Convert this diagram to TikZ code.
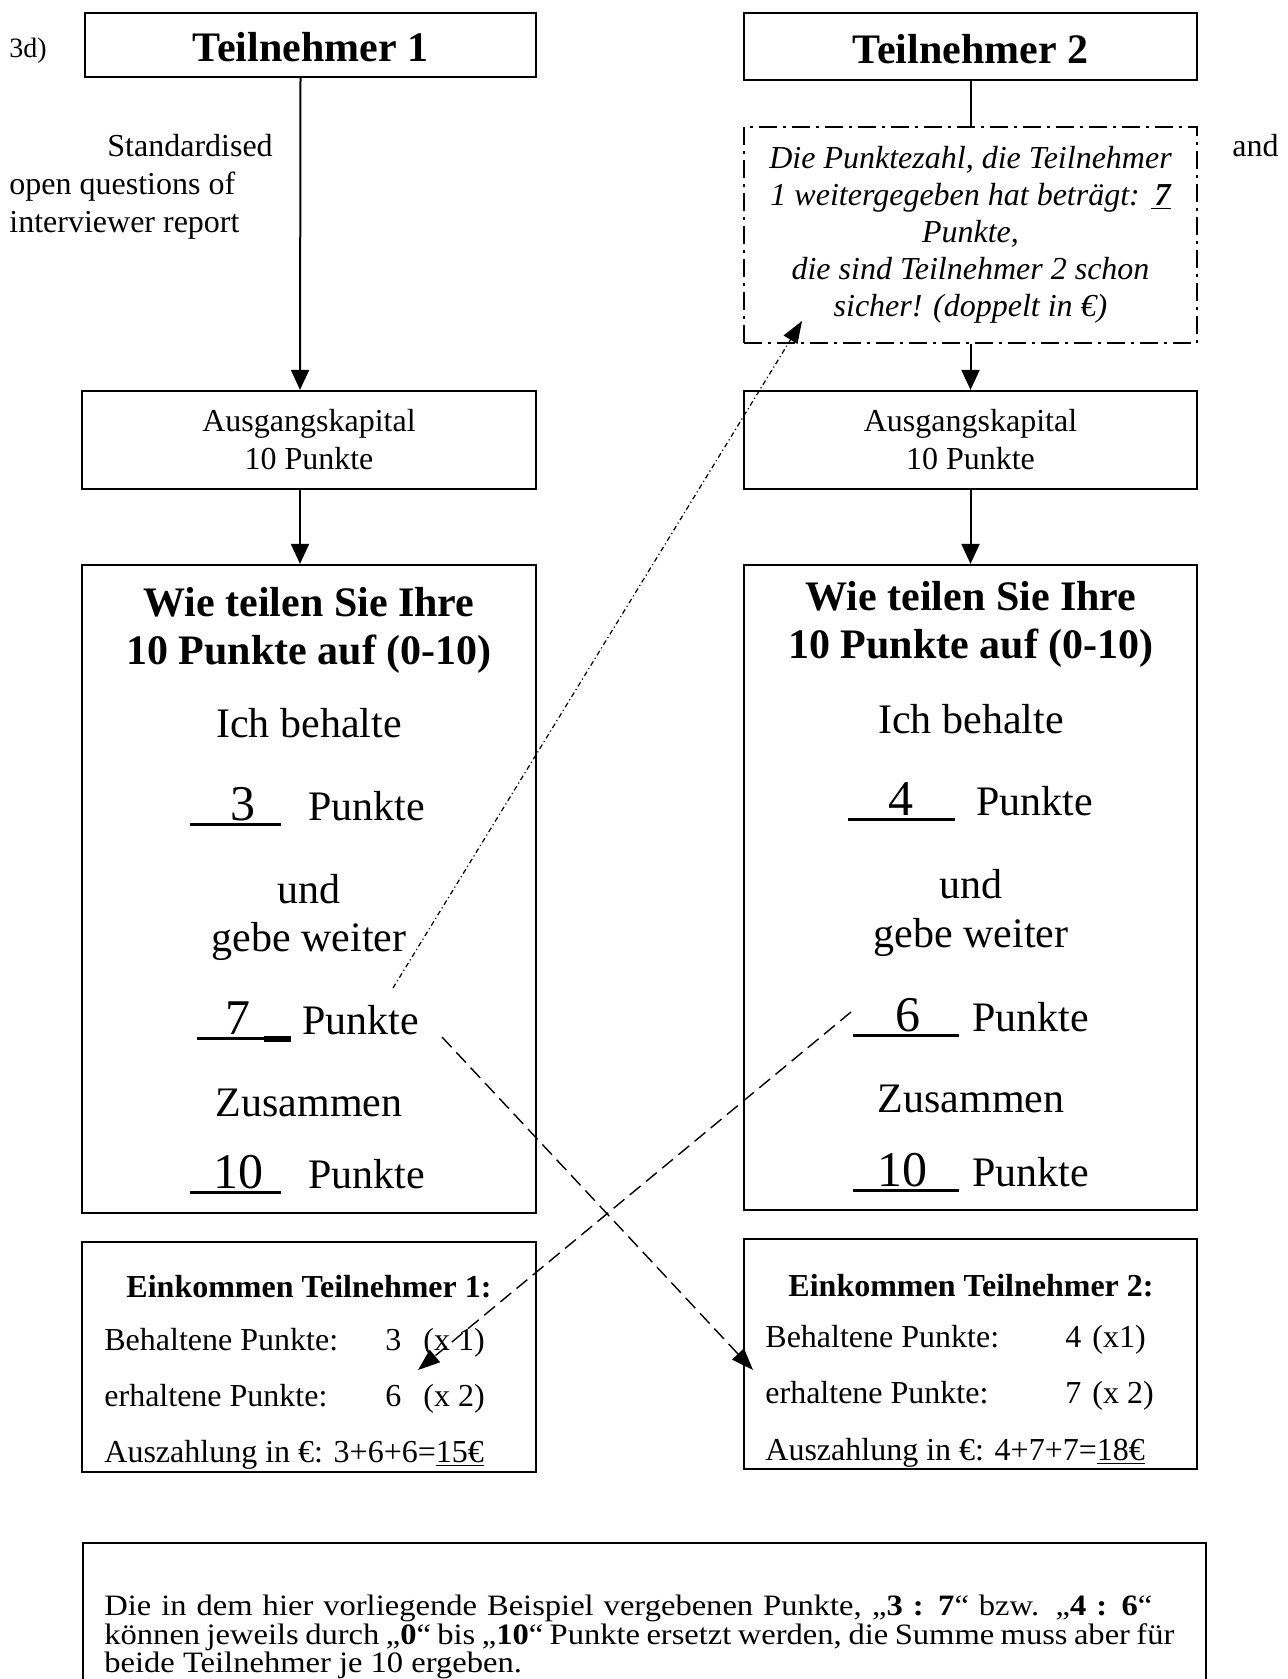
\documentclass[tikz,border=0pt]{standalone}
\usepackage{fontspec}
\setmainfont{Liberation Serif}
\newfontfamily\breitfont[FakeStretch=1.1]{Liberation Serif}
\usetikzlibrary{arrows.meta}

\newcommand{\klein}{\fontsize{16}{19}\selectfont}
\newcommand{\kleinb}{\bfseries\fontsize{16}{19}\selectfont}
\newcommand{\schraeg}{\itshape\fontsize{16}{18.5}\selectfont}
\newcommand{\notiz}{\breitfont\fontsize{14.8}{14.2}\selectfont}
\newcommand{\mittel}{\fontsize{21}{25}\selectfont}
\newcommand{\titel}{\bfseries\fontsize{21}{25}\selectfont}
\newcommand{\ziffer}{\fontsize{25}{28}\selectfont}
% Feld mit Unterstrich und Ziffer
\newcommand{\feld}[3]{\rlap{\rule[-3pt]{#1}{1.3pt}}\makebox[#1][l]{\hspace*{#2}\ziffer #3}}

\begin{document}
\begin{tikzpicture}[x=0.5pt, y=-0.5pt,
    kasten/.style={draw, line width=1.1pt, inner sep=0pt},
    strichpunkt/.style={draw, line width=1pt, dash pattern=on 9pt off 3pt on 1.5pt off 3pt, inner sep=0pt},
    zeile/.style={anchor=base, inner sep=0pt},
    links/.style={anchor=base west, inner sep=0pt},
    pfeil/.style={-{Triangle[length=10pt,width=9pt]}, line width=1pt},
    gestrichelt/.style={-{Triangle[length=11pt,width=8pt]}, line width=0.7pt, dash pattern=on 7pt off 3.5pt},
    punktiert/.style={-{Triangle[length=11pt,width=8pt]}, line width=0.6pt, dash pattern=on 2.5pt off 1.5pt on 0.6pt off 1.5pt}]
  \useasboundingbox (0,0) rectangle (1288,1679);

  % Kopf
  \node[links, font=\fontsize{14}{17}\selectfont] (nr) at (9,58) {3d)};
  \node[kasten, font=\titel, text height=17pt, minimum width=225.5pt, minimum height=32pt] (t1) at (310.5,45) {Teilnehmer 1};
  \node[kasten, font=\titel, text height=17pt, minimum width=226.5pt, minimum height=33.5pt] (t2) at (970.5,46.5) {Teilnehmer 2};
  \node[links, font=\klein] (std1) at (107,157) {Standardised};
  \node[links, font=\klein] (std2) at (9,195) {open questions of};
  \node[links, font=\klein] (std3) at (9,233) {interviewer report};
  \node[links, font=\klein] (und) at (1232,157) {and};

  % Hinweis fuer Teilnehmer 2
  \node[strichpunkt, align=center, font=\schraeg, minimum width=226.5pt, minimum height=108pt] (info) at (970.5,235)
    {Die Punktezahl, die Teilnehmer\\1 weitergegeben hat beträgt: \underline{\hspace{2pt}\textbf{7}}\\Punkte,\\die sind Teilnehmer 2 schon\\sicher! (doppelt in €)};

  % Ausgangskapital
  \node[kasten, align=center, font=\klein, minimum width=227pt, minimum height=49pt] (a1) at (309,440) {Ausgangskapital\\10 Punkte};
  \node[kasten, align=center, font=\klein, minimum width=226.5pt, minimum height=49pt] (a2) at (970.5,440) {Ausgangskapital\\10 Punkte};

  % Aufteilung Teilnehmer 1
  \node[kasten, minimum width=227pt, minimum height=324pt] (b1) at (309,889) {};
  \node[zeile, font=\titel] (b1k1) at (309,616) {Wie teilen Sie Ihre};
  \node[zeile, font=\titel] (b1k2) at (309,664) {10 Punkte auf (0-10)};
  \node[zeile, font=\mittel] (b1i) at (309,737) {Ich behalte};
  \node[links, font=\mittel] (b1r3) at (190,820) {\feld{45.5pt}{20pt}{3}\hspace*{13.5pt}Punkte};
  \node[zeile, font=\mittel] (b1u) at (309,903) {und};
  \node[zeile, font=\mittel] (b1g) at (309,951) {gebe weiter};
  \node[links, font=\mittel] (b1r7) at (197,1034) {\rlap{\rule[-3pt]{47pt}{1.3pt}}\rlap{\hspace*{33.5pt}\rule[-3.8pt]{13.5pt}{2.6pt}}\makebox[47pt][l]{\hspace*{14pt}\ziffer 7}\hspace*{5.5pt}Punkte};
  \node[zeile, font=\mittel] (b1z) at (309,1116) {Zusammen};
  \node[links, font=\mittel] (b1r10) at (190,1188) {\feld{45.5pt}{11.5pt}{10}\hspace*{13.5pt}Punkte};

  % Aufteilung Teilnehmer 2
  \node[kasten, minimum width=226.5pt, minimum height=322.5pt] (b2) at (970.5,887.5) {};
  \node[zeile, font=\titel] (b2k1) at (971,610) {Wie teilen Sie Ihre};
  \node[zeile, font=\titel] (b2k2) at (971,658) {10 Punkte auf (0-10)};
  \node[zeile, font=\mittel] (b2i) at (971,733) {Ich behalte};
  \node[links, font=\mittel] (b2r4) at (848,815) {\feld{53.5pt}{20pt}{4}\hspace*{10.5pt}Punkte};
  \node[zeile, font=\mittel] (b2u) at (971,898) {und};
  \node[zeile, font=\mittel] (b2g) at (971,947) {gebe weiter};
  \node[links, font=\mittel] (b2r6) at (853,1031) {\feld{53pt}{21pt}{6}\hspace*{6.5pt}Punkte};
  \node[zeile, font=\mittel] (b2z) at (971,1112) {Zusammen};
  \node[links, font=\mittel] (b2r10) at (853,1186) {\feld{53pt}{12pt}{10}\hspace*{6.5pt}Punkte};

  % Einkommen
  \node[kasten, minimum width=227pt, minimum height=115pt] (e1) at (309,1357) {};
  \node[zeile, font=\kleinb] (e1t) at (309,1297) {Einkommen Teilnehmer 1:};
  \node[links, font=\klein] (e1b) at (104,1350) {\makebox[140.5pt][l]{Behaltene Punkte:}3\hspace*{11pt}(x 1)};
  \node[links, font=\klein] (e1e) at (104,1406) {\makebox[140.5pt][l]{erhaltene Punkte:}6\hspace*{11pt}(x 2)};
  \node[links, font=\klein] (e1z) at (104,1462) {Auszahlung in €: 3+6+6=\underline{15€}};

  \node[kasten, minimum width=226.5pt, minimum height=115pt] (e2) at (970.5,1354) {};
  \node[zeile, font=\kleinb] (e2t) at (971,1296) {Einkommen Teilnehmer 2:};
  \node[links, font=\klein] (e2b) at (765,1347) {\makebox[150pt][l]{Behaltene Punkte:}4\hspace*{5.5pt}(x1)};
  \node[links, font=\klein] (e2e) at (765,1403) {\makebox[150pt][l]{erhaltene Punkte:}7\hspace*{5.5pt}(x 2)};
  \node[links, font=\klein] (e2z) at (765,1460) {Auszahlung in €: 4+7+7=\underline{18€}};

  % Hinweis unten
  \node[kasten, anchor=north west, minimum width=561.5pt, minimum height=90pt] (hinweis) at (82,1542) {};
  \node[links, font=\notiz] (h1) at (104,1615) {\makebox[524pt][s]{Die in dem hier vorliegende Beispiel vergebenen Punkte, „\textbf{3 : 7}“ bzw. „\textbf{4 : 6}“}};
  \node[links, font=\notiz] (h2) at (104,1644) {\makebox[535pt][s]{können jeweils durch „\textbf{0}“ bis „\textbf{10}“ Punkte ersetzt werden, die Summe muss aber für}};
  \node[links, font=\notiz] (h3) at (104,1672) {beide Teilnehmer je 10 ergeben.};

  % Pfeile
  \draw[pfeil] ([xshift=-5pt]t1.south) -- ([xshift=-4.5pt]a1.north);
  \draw[pfeil] ([xshift=-4.5pt]a1.south) -- ([xshift=-4.5pt]b1.north);
  \draw[line width=1pt] (t2) -- (info);
  \draw[pfeil] (info) -- (a2);
  \draw[pfeil] (a2) -- (b2);

  % Weitergabe der Punkte
  \coordinate (weiter1) at (393,988);
  \coordinate (sicher) at (802,321);
  \coordinate (von1) at (442,1037);
  \coordinate (an2) at (753,1370);
  \coordinate (von2) at (851,1012);
  \coordinate (an1) at (418,1370);
  \draw[punktiert] (weiter1) -- (sicher);
  \draw[gestrichelt] (von1) -- (an2);
  \draw[gestrichelt] (von2) -- (an1);
\end{tikzpicture}
\end{document}
